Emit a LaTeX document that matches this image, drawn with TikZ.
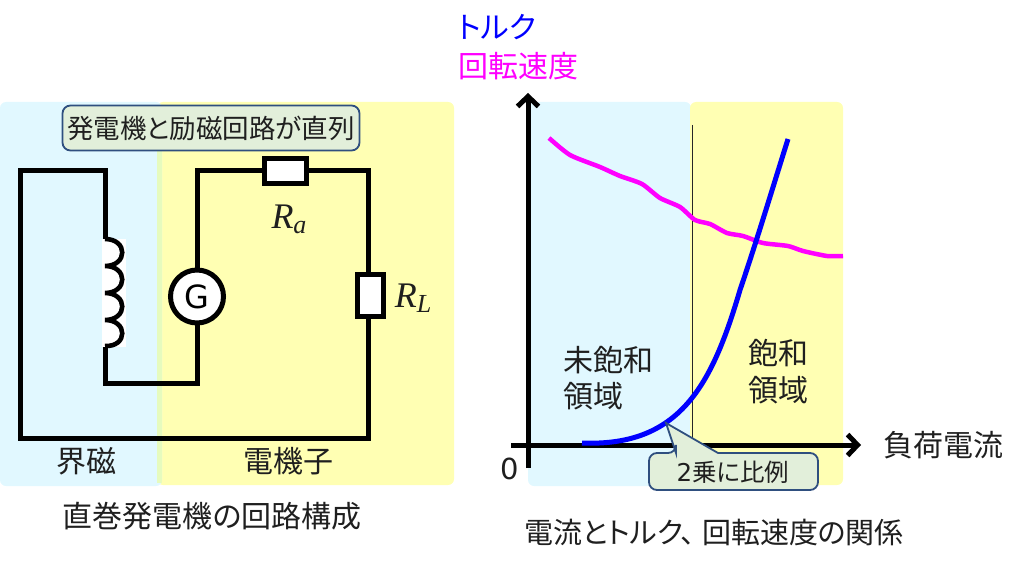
\documentclass[tikz,border=0pt]{standalone}
\usepackage{fontspec}
\setmainfont{Noto Sans CJK JP}[RawFeature=+palt]
\newfontfamily\latinf{DejaVu Sans}
\newfontfamily\mathf{Liberation Serif}
\usetikzlibrary{arrows.meta}
\definecolor{bluebg}{HTML}{E1F8FF}
\definecolor{yellowbg}{HTML}{FFFFB3}
\definecolor{overlapbg}{HTML}{E6FBBE}
\definecolor{notefill}{HTML}{E2EFDA}
\definecolor{noteline}{HTML}{2F4F7F}
\definecolor{magentaline}{HTML}{FF00FF}
\newcommand{\fs}[1]{\fontsize{#1}{#1}\selectfont}
\newcommand{\ital}[2]{{\mathf\itshape\fs{36}#1\raisebox{-5pt}{\fs{26}#2}}}
\tikzset{
  x=1pt,y=-1pt,
  wire/.style={line width=5pt,line join=miter,black},
  box/.style={draw=black,line width=5pt,fill=white,inner sep=0pt,minimum width=#1},
  lbl/.style={inner sep=0pt,font=\fs{30},text=black!88},
  region/.style={rounded corners=6pt},
  axisline/.style={line width=5pt,black,-{Straight Barb[length=10pt,width=21pt,line width=5pt]}},
  note/.style={draw=noteline,line width=1.8pt,fill=notefill,rounded corners=8pt},
}
\begin{document}
\begin{tikzpicture}
\useasboundingbox (0,0) rectangle (1024,569);
% backgrounds
\fill[yellowbg,region] (157,102) rectangle (454,485);
\fill[bluebg,region] (0,102) rectangle (162,486);
\fill[overlapbg] (157,105) rectangle (162,483);
\fill[bluebg,region] (528,102) rectangle (691,486);
\fill[yellowbg,region] (690,102) rectangle (843,485);
% circuit points
\coordinate (tl) at (20,171);
\coordinate (tm) at (105,171);
\coordinate (cb) at (105,346);
\coordinate (ct) at (105,239);
\coordinate (lb) at (105,383);
\coordinate (gb) at (197,383);
\coordinate (gt) at (197,171);
\coordinate (tr) at (368,171);
\coordinate (br) at (368,438);
\coordinate (bl) at (20,438);
\draw[wire] (ct) -- (tm) -- (tl) -- (bl) -- (br) -- (tr) -- (gt) -- (gb) -- (lb) -- (cb);
% coil
\fill[white] (102,239) rectangle (126,347);
\draw[line width=4.6pt,black] (ct)
  .. controls (128,239) and (128,266) .. (105,266)
  .. controls (128,266) and (128,293) .. (105,293)
  .. controls (128,293) and (128,320) .. (105,320)
  .. controls (128,320) and (128,347) .. (cb);
% components
\node[draw=black,line width=5pt,fill=white,circle,minimum size=53pt,inner sep=0pt,font=\latinf\fs{32}] (G) at (197,296.5) {G};
\node[box=42pt,minimum height=25pt] (Ra) at (285.5,171) {};
\node[box=26pt,minimum height=42pt] (RL) at (370.5,295.5) {};
\node[inner sep=0pt,text=black!88] (RaL) at (289,219) {\ital{R}{a}};
\node[inner sep=0pt,text=black!88] (RLL) at (413,298) {\ital{R}{L}};
% top note
\node[note,minimum width=297pt,minimum height=45pt,inner sep=0pt,font=\fs{26.5},text=black!88] (title) at (211,128) {発電機と励磁回路が直列};
% left labels
\node[lbl] (kai) at (86,461) {界磁};
\node[lbl] (den) at (288,461) {電機子};
\node[lbl] (capL) at (212,516) {直巻発電機の回路構成};
% right graph
\draw[line width=1pt,black!85] (692,125) -- (692,445);
\coordinate (ya) at (528,468);
\coordinate (yb) at (528,93);
\coordinate (xa) at (511,445);
\coordinate (xb) at (861,445);
\draw[axisline] (ya) -- (yb);
\draw[axisline] (xa) -- (xb);
\draw[magentaline,line width=4.5pt,line join=round] plot[smooth,tension=0.4] coordinates {
 (549,138) (570,155) (600,167) (620,176) (642,184) (660,198) (680,207) (695,220)
 (710,224) (727,233) (743,236) (763,243) (788,246) (803,251) (827,256) (843,256)};
\coordinate (b0) at (582,443);
\coordinate (b1) at (740,290);
\coordinate (b2) at (788,139);
\draw[blue,line width=5pt] (b0) .. controls (680,447) and (712,385) .. (b1)
  .. controls (756,243) and (772,190) .. (b2);
% callout
\coordinate (tip) at (666,423);
\draw[draw=noteline,line width=1.8pt,fill=notefill,line join=miter]
  (676,453) [sharp corners] -- (tip) -- (718,453) [rounded corners=8pt] -- (818,453) -- (818,490) -- (649,490) -- (649,453) -- (676,453) [sharp corners] -- cycle;
\node[lbl,font=\fs{24.5}] (two) at (733,472) {{\latinf 2}乗に比例};
% right labels
\node[inner sep=0pt,anchor=west,font=\fs{30},text=blue] (tq) at (458,27) {トルク};
\node[inner sep=0pt,anchor=west,font=\fs{30},text=magentaline] (sp) at (458,66) {回転速度};
\node[lbl,anchor=west] (mi) at (563,360) {未飽和};
\node[lbl,anchor=west] (miR) at (563,396) {領域};
\node[lbl] (ho) at (778,353) {飽和};
\node[lbl] (hoR) at (778,390) {領域};
\node[lbl] (fuka) at (943,445) {負荷電流};
\node[lbl,font=\latinf\fs{29}] (zero) at (510,469) {0};
\node[lbl,font=\fs{29}] (capR) at (714,533) {電流とトルク、\hspace{7pt}回転速度の関係};
\end{tikzpicture}
\end{document}
